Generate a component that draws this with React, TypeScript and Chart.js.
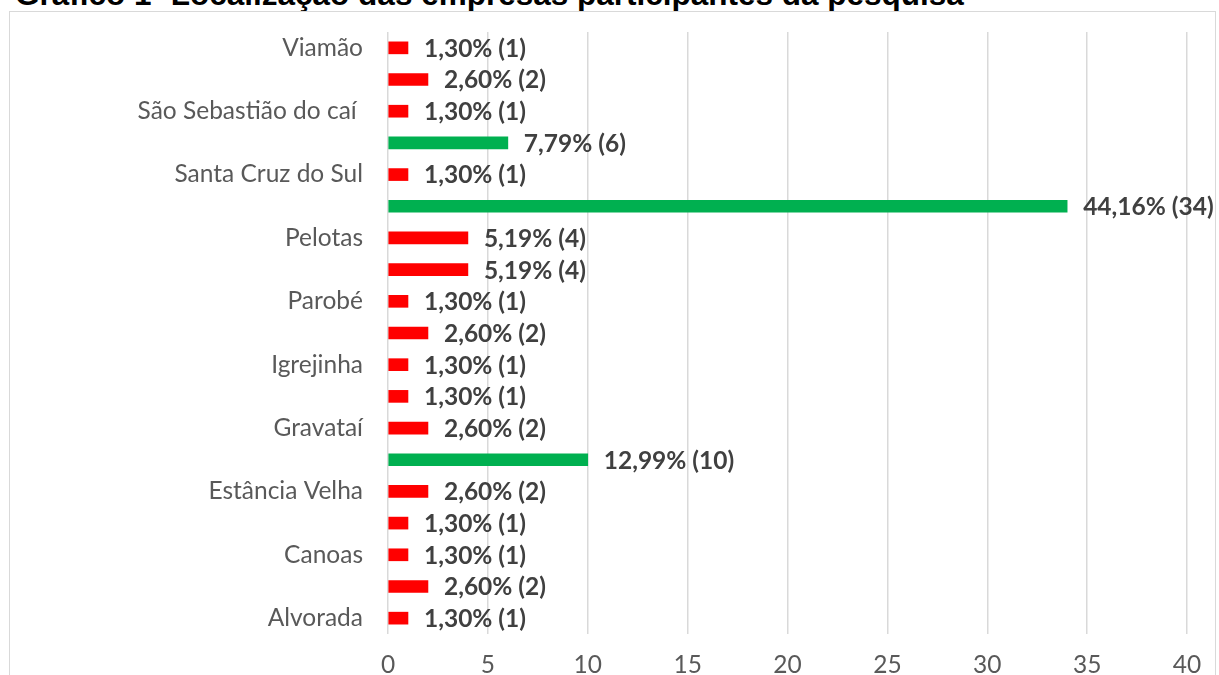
import React, { useEffect, useRef } from "react";
import { Chart, registerables } from "chart.js";

Chart.register(...registerables);

const title = "Gráfico 1- Localização das empresas participantes da pesquisa";

// Top to bottom, as drawn in the chart (hidden labels are blank)
const cities = [
  "Viamão",
  "",
  "São Sebastião do caí ",
  "",
  "Santa Cruz do Sul",
  "",
  "Pelotas",
  "",
  "Parobé",
  "",
  "Igrejinha",
  "",
  "Gravataí",
  "",
  "Estância Velha",
  "",
  "Canoas",
  "",
  "Alvorada",
];

const companies = [1, 2, 1, 6, 1, 34, 4, 4, 1, 2, 1, 1, 2, 10, 2, 1, 1, 2, 1];

const xTicks = [0, 5, 10, 15, 20, 25, 30, 35, 40];

const total = companies.reduce((a, b) => a + b, 0);
const pctLabel = (v: number) =>
  `${((v / total) * 100).toFixed(2).replace(".", ",")}% (${v})`;

const FONT = "Lato, 'Noto Sans', sans-serif";

const dataLabelPlugin = {
  id: "dataLabels",
  afterDatasetsDraw(chart: any) {
    const ctx = chart.ctx;
    const meta = chart.getDatasetMeta(0);
    ctx.save();
    ctx.font = `bold 24.5px ${FONT}`;
    ctx.fillStyle = "#404040";
    ctx.textAlign = "left";
    ctx.textBaseline = "middle";
    meta.data.forEach((bar: any, i: number) => {
      ctx.fillText(pctLabel(companies[i]), bar.x + 16, bar.y + 1);
    });
    ctx.restore();
  },
};

export default function App() {
  const ref = useRef<HTMLCanvasElement>(null);

  useEffect(() => {
    if (!ref.current) return;
    const chart = new Chart(ref.current, {
      type: "bar",
      data: {
        labels: cities,
        datasets: [
          {
            data: companies,
            backgroundColor: (c: any) =>
              (c.raw as number) > 5 ? "#00B050" : "#FF0000",
            barThickness: 12,
            borderWidth: 0,
          },
        ],
      },
      options: {
        indexAxis: "y",
        animation: false,
        responsive: false,
        layout: { padding: { top: 32, right: 32, left: 0, bottom: 0 } },
        plugins: {
          legend: { display: false },
          tooltip: { enabled: false },
          title: { display: false },
        },
        scales: {
          x: {
            min: 0,
            max: 40,
            afterBuildTicks: (s: any) => {
              s.ticks = xTicks.map((v) => ({ value: v }));
            },
            afterFit: (s: any) => {
              s.height = 41;
              s.paddingLeft = 0;
              s.paddingRight = 0;
            },
            grid: {
              color: "#d9d9d9",
              lineWidth: 1.5,
              drawTicks: false,
            },
            border: { display: false },
            ticks: {
              padding: 16,
              color: "#595959",
              font: { family: FONT, size: 24.5 },
            },
          },
          y: {
            afterFit: (s: any) => {
              s.width = 388;
              s.paddingTop = 0;
              s.paddingBottom = 0;
            },
            grid: { display: false, drawTicks: false },
            border: { display: false },
            ticks: {
              autoSkip: false,
              padding: 25,
              color: "#595959",
              font: { family: FONT, size: 24.5 },
            },
          },
        },
      },
      plugins: [dataLabelPlugin],
    });
    return () => chart.destroy();
  }, []);

  return (
    <div
      style={{
        position: "fixed",
        left: 0,
        top: 0,
        width: 1219,
        height: 675,
        background: "#fff",
        overflow: "hidden",
      }}
    >
      <div
        style={{
          position: "absolute",
          left: 15,
          top: -22,
          whiteSpace: "nowrap",
          fontFamily: "'Liberation Sans', Arial, sans-serif",
          fontWeight: "bold",
          fontSize: 31.5,
          lineHeight: "32px",
          color: "#000",
        }}
      >
        {title}
      </div>
      <div
        style={{
          position: "absolute",
          left: 9,
          top: 11,
          width: 1207,
          height: 700,
          border: "1.5px solid #d9d9d9",
          boxSizing: "border-box",
        }}
      />
      <canvas
        ref={ref}
        width={1219}
        height={675}
        style={{ position: "absolute", left: 0, top: 0 }}
      />
    </div>
  );
}
